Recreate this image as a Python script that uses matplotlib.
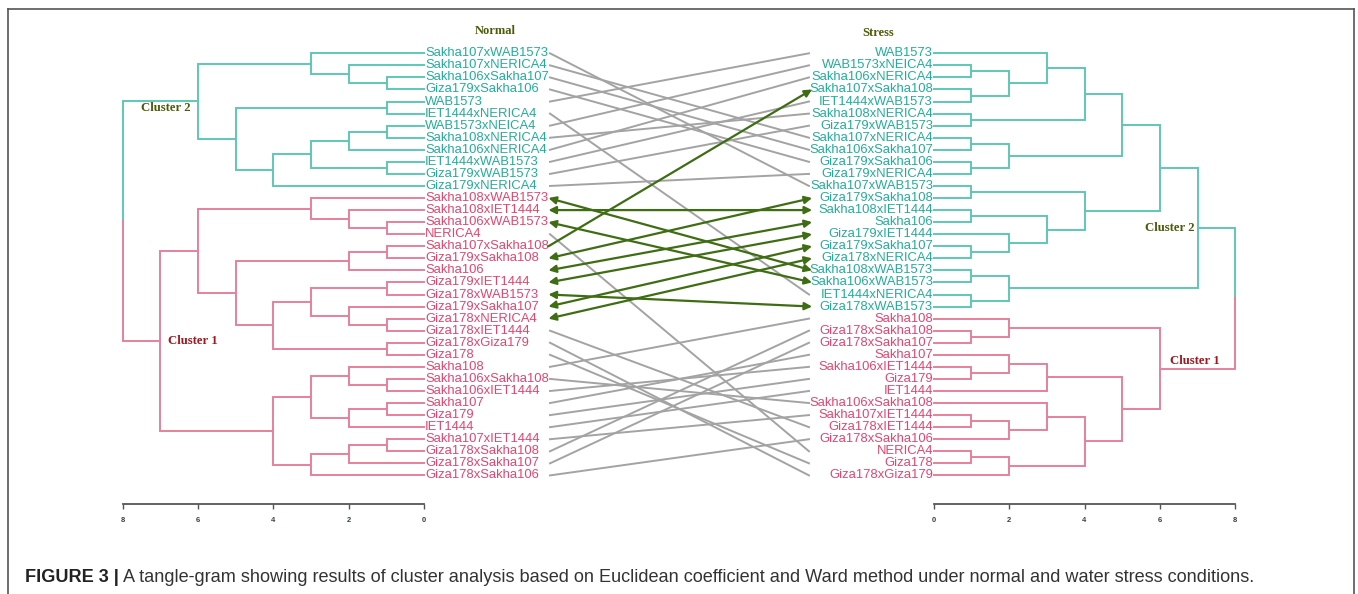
import matplotlib
matplotlib.use("Agg")
import matplotlib.pyplot as plt
from matplotlib.lines import Line2D

plt.rcParams['font.family'] = ['Liberation Sans', 'DejaVu Sans']

# Leaf order of the two dendrograms (top to bottom)
normal_leaves = [
    "Sakha107xWAB1573", "Sakha107xNERICA4", "Sakha106xSakha107", "Giza179xSakha106",
    "WAB1573", "IET1444xNERICA4", "WAB1573xNEICA4", "Sakha108xNERICA4",
    "Sakha106xNERICA4", "IET1444xWAB1573", "Giza179xWAB1573", "Giza179xNERICA4",
    "Sakha108xWAB1573", "Sakha108xIET1444", "Sakha106xWAB1573", "NERICA4",
    "Sakha107xSakha108", "Giza179xSakha108", "Sakha106", "Giza179xIET1444",
    "Giza178xWAB1573", "Giza179xSakha107", "Giza178xNERICA4", "Giza178xIET1444",
    "Giza178xGiza179", "Giza178", "Sakha108", "Sakha106xSakha108",
    "Sakha106xIET1444", "Sakha107", "Giza179", "IET1444",
    "Sakha107xIET1444", "Giza178xSakha108", "Giza178xSakha107", "Giza178xSakha106",
]
stress_leaves = [
    "WAB1573", "WAB1573xNEICA4", "Sakha106xNERICA4", "Sakha107xSakha108",
    "IET1444xWAB1573", "Sakha108xNERICA4", "Giza179xWAB1573", "Sakha107xNERICA4",
    "Sakha106xSakha107", "Giza179xSakha106", "Giza179xNERICA4", "Sakha107xWAB1573",
    "Giza179xSakha108", "Sakha108xIET1444", "Sakha106", "Giza179xIET1444",
    "Giza179xSakha107", "Giza178xNERICA4", "Sakha108xWAB1573", "Sakha106xWAB1573",
    "IET1444xNERICA4", "Giza178xWAB1573", "Sakha108", "Giza178xSakha108",
    "Giza178xSakha107", "Sakha107", "Sakha106xIET1444", "Giza179",
    "IET1444", "Sakha106xSakha108", "Sakha107xIET1444", "Giza178xIET1444",
    "Giza178xSakha106", "NERICA4", "Giza178", "Giza178xGiza179",
]

# Merges: (child a, child b, height); "#k" = k-th merge of the list
normal_merges = [
    ("Sakha106xSakha107", "Giza179xSakha106", 1),   # 0
    ("Sakha107xNERICA4", "#0", 2),                  # 1
    ("Sakha107xWAB1573", "#1", 3),                  # 2
    ("WAB1573", "IET1444xNERICA4", 1),              # 3
    ("WAB1573xNEICA4", "Sakha108xNERICA4", 1),      # 4
    ("#4", "Sakha106xNERICA4", 2),                  # 5
    ("IET1444xWAB1573", "Giza179xWAB1573", 1),      # 6
    ("#5", "#6", 3),                                # 7
    ("#7", "Giza179xNERICA4", 4),                   # 8
    ("#3", "#8", 5),                                # 9
    ("#2", "#9", 6),                                # 10 cluster 2
    ("Sakha106xWAB1573", "NERICA4", 1),             # 11
    ("Sakha108xIET1444", "#11", 2),                 # 12
    ("Sakha108xWAB1573", "#12", 3),                 # 13
    ("Sakha107xSakha108", "Giza179xSakha108", 1),   # 14
    ("#14", "Sakha106", 2),                         # 15
    ("Giza179xIET1444", "Giza178xWAB1573", 1),      # 16
    ("Giza178xNERICA4", "Giza178xIET1444", 1),      # 17
    ("Giza179xSakha107", "#17", 2),                 # 18
    ("#16", "#18", 3),                              # 19
    ("Giza178xGiza179", "Giza178", 1),              # 20
    ("#19", "#20", 4),                              # 21
    ("#15", "#21", 5),                              # 22
    ("#13", "#22", 6),                              # 23
    ("Sakha106xSakha108", "Sakha106xIET1444", 1),   # 24
    ("Sakha108", "#24", 2),                         # 25
    ("Sakha107", "Giza179", 1),                     # 26
    ("#26", "IET1444", 2),                          # 27
    ("#25", "#27", 3),                              # 28
    ("Sakha107xIET1444", "Giza178xSakha108", 1),    # 29
    ("#29", "Giza178xSakha107", 2),                 # 30
    ("#30", "Giza178xSakha106", 3),                 # 31
    ("#28", "#31", 4),                              # 32
    ("#23", "#32", 7),                              # 33 cluster 1
    ("#10", "#33", 8),                              # 34 root
]
stress_merges = [
    ("WAB1573xNEICA4", "Sakha106xNERICA4", 1),      # 0
    ("Sakha107xSakha108", "IET1444xWAB1573", 1),    # 1
    ("#0", "#1", 2),                                # 2
    ("WAB1573", "#2", 3),                           # 3
    ("Sakha108xNERICA4", "Giza179xWAB1573", 1),     # 4
    ("#3", "#4", 4),                                # 5
    ("Sakha107xNERICA4", "Sakha106xSakha107", 1),   # 6
    ("Giza179xSakha106", "Giza179xNERICA4", 1),     # 7
    ("#6", "#7", 2),                                # 8
    ("#5", "#8", 5),                                # 9
    ("Sakha107xWAB1573", "Giza179xSakha108", 1),    # 10
    ("Sakha108xIET1444", "Sakha106", 1),            # 11
    ("Giza179xSakha107", "Giza178xNERICA4", 1),     # 12
    ("Giza179xIET1444", "#12", 2),                  # 13
    ("#11", "#13", 3),                              # 14
    ("#10", "#14", 4),                              # 15
    ("#9", "#15", 6),                               # 16
    ("Sakha108xWAB1573", "Sakha106xWAB1573", 1),    # 17
    ("IET1444xNERICA4", "Giza178xWAB1573", 1),      # 18
    ("#17", "#18", 2),                              # 19
    ("#16", "#19", 7),                              # 20 cluster 2
    ("Giza178xSakha108", "Giza178xSakha107", 1),    # 21
    ("Sakha108", "#21", 2),                         # 22
    ("Sakha106xIET1444", "Giza179", 1),             # 23
    ("Sakha107", "#23", 2),                         # 24
    ("#24", "IET1444", 3),                          # 25
    ("Sakha107xIET1444", "Giza178xIET1444", 1),     # 26
    ("#26", "Giza178xSakha106", 2),                 # 27
    ("Sakha106xSakha108", "#27", 3),                # 28
    ("NERICA4", "Giza178", 1),                      # 29
    ("#29", "Giza178xGiza179", 2),                  # 30
    ("#28", "#30", 4),                              # 31
    ("#25", "#31", 5),                              # 32
    ("#22", "#32", 6),                              # 33 cluster 1
    ("#20", "#33", 8),                              # 34 root
]

# genotypes that moved from cluster 1 (normal) to cluster 2 (stress)
moved = ["Sakha108xWAB1573", "Sakha108xIET1444", "Sakha106xWAB1573", "Sakha107xSakha108",
         "Giza179xSakha108", "Sakha106", "Giza179xIET1444", "Giza178xWAB1573",
         "Giza179xSakha107", "Giza178xNERICA4"]
one_head = ["Sakha107xSakha108"]

ticks = [0, 2, 4, 6, 8]

teal_line, teal_text = '#5ec7b5', '#22ad9a'
pink_line, pink_text = '#e6809b', '#e0466f'
olive = '#4b5b08'
darkred = '#9c1a1f'
grey = '#a3a3a3'
green = '#3e6d13'

W, H = 1358, 594
fig = plt.figure(figsize=(W / 100, H / 100), dpi=100)


def fx(px):
    return px / W


def fy(px):
    return 1 - px / H


top_px, bot_px = 20, 504
y0, dy = 53.3, 12.06
ylim = ((bot_px - y0) / dy, (top_px - y0) / dy)


def layout(leaves, merges):
    pos = {name: (0.0, float(i)) for i, name in enumerate(leaves)}
    for k, (a, b, h) in enumerate(merges):
        pos["#%d" % k] = (h, (pos[a][1] + pos[b][1]) / 2)
    return pos


def draw_tree(ax, leaves, merges, label_side):
    pos = layout(leaves, merges)
    colours = {}
    # children of the root are the two clusters: first teal, second pink
    ra, rb, _ = merges[-1]
    stack = [(ra, (teal_line, teal_text)), (rb, (pink_line, pink_text))]
    while stack:
        node, col = stack.pop()
        colours[node] = col
        if node.startswith("#"):
            a, b, _ = merges[int(node[1:])]
            stack += [(a, col), (b, col)]
    for k, (a, b, h) in enumerate(merges):
        ym = pos["#%d" % k][1]
        for c in (a, b):
            hc, yc = pos[c]
            ax.plot([hc, h, h], [yc, yc, ym], color=colours[c][0], lw=1.4,
                    solid_joinstyle='miter', clip_on=False)
    for name in leaves:
        h, y = pos[name]
        ax.text(-0.02, y, name, color=colours[name][1], fontsize=9.4, va='center',
                ha=label_side, clip_on=False)
    ax.set_ylim(*ylim)
    ax.set_xticks(ticks)
    ax.set_xticklabels([str(t) for t in ticks], fontsize=5.5, fontweight='bold', color='#3a3f4a')
    ax.tick_params(axis='x', length=3.5, width=1, color='#555555', pad=6)
    ax.set_yticks([])
    for s in ('top', 'left', 'right'):
        ax.spines[s].set_visible(False)
    ax.spines['bottom'].set_color('#555555')
    ax.spines['bottom'].set_linewidth(1.3)
    ax.patch.set_visible(False)
    return pos


axL = fig.add_axes([fx(122.5), fy(bot_px), fx(424.3 - 122.5), (bot_px - top_px) / H])
axL.set_xlim(8, 0)
posL = draw_tree(axL, normal_leaves, normal_merges, 'left')

axR = fig.add_axes([fx(933.7), fy(bot_px), fx(1235.3 - 933.7), (bot_px - top_px) / H])
axR.set_xlim(0, 8)
posR = draw_tree(axR, stress_leaves, stress_merges, 'right')

# cluster labels
cl = dict(family=['Liberation Serif', 'DejaVu Serif'], fontweight='bold', fontsize=9.2)
axL.text(6.2, posL["#10"][1] + 0.55, "Cluster 2", color=olive, ha='right', va='center', **cl)
axL.text(6.8, posL["#33"][1], "Cluster 1", color=darkred, ha='left', va='center', **cl)
axR.text(6.93, posR["#20"][1], "Cluster 2", color=olive, ha='right', va='center', **cl)
axR.text(6.27, posR["#33"][1] - 0.65, "Cluster 1", color=darkred, ha='left', va='center', **cl)

# connecting lines
axM = fig.add_axes([fx(550), fy(bot_px), fx(809 - 550), (bot_px - top_px) / H])
axM.set_xlim(0, 1)
axM.set_ylim(*ylim)
axM.axis('off')
for i, name in enumerate(normal_leaves):
    if name in moved:
        continue
    j = stress_leaves.index(name)
    axM.plot([0, 1], [i, j], color=grey, lw=1.4, clip_on=False)
for name in moved:
    i = normal_leaves.index(name)
    j = stress_leaves.index(name)
    style = '-|>' if name in one_head else '<|-|>'
    axM.annotate('', xy=(1.012, j), xytext=(-0.006, i), annotation_clip=False,
                 arrowprops=dict(arrowstyle=style, color=green, lw=1.6,
                                 mutation_scale=11, shrinkA=0, shrinkB=0))

# panel titles
tt = dict(family=['Liberation Serif', 'DejaVu Serif'], fontweight='bold', fontsize=9, color=olive)
fig.text(fx(495), fy(31), "Normal", ha='center', va='center', **tt)
fig.text(fx(878), fy(33), "Stress", ha='center', va='center', **tt)

# caption
cap_size = 13.1
t1 = fig.text(fx(25), fy(577), "FIGURE 3 |", fontsize=cap_size, fontweight='bold',
              color='#222222', va='center')
plt.annotate(" A tangle-gram showing results of cluster analysis based on Euclidean coefficient and Ward method "
             "under normal and water stress conditions.",
             xy=(1, 0), xycoords=t1, va='bottom', fontsize=cap_size, color='#333333',
             annotation_clip=False)

# frame around the figure panel
for xs, ys in [([8, 1354], [9, 9]), ([8, 8], [9, 594]), ([1354, 1354], [9, 594])]:
    fig.add_artist(Line2D([fx(x) for x in xs], [fy(y) for y in ys], color='#555555', lw=1.2))

fig.savefig("out.png", dpi=100)
